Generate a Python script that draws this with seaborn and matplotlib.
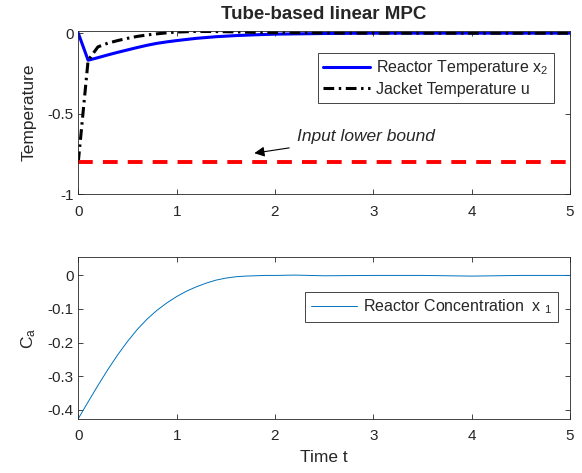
import numpy as np
import matplotlib
matplotlib.use("Agg")
import matplotlib.pyplot as plt
import seaborn as sns

# top panel: reactor temperature x2 and jacket temperature u
t_top = [0, 0.1, 0.2, 0.3, 0.4, 0.5, 0.6, 0.7, 0.8, 0.9, 1.0, 1.2, 1.4, 1.6, 1.8, 2.0, 2.5, 3.0, 3.5, 4.0, 4.5, 5.0]
x2 = [0, -0.168, -0.152, -0.135, -0.119, -0.104, -0.089, -0.075, -0.063, -0.054, -0.046, -0.032, -0.022, -0.015, -0.010, -0.006, -0.002, 0, 0, 0, 0, 0]
u = [-0.80, -0.168, -0.085, -0.062, -0.046, -0.032, -0.020, -0.011, -0.004, 0.002, 0.007, 0.011, 0.010, 0.008, 0.005, 0.003, 0.001, 0, 0, 0, 0, 0]
bound_t = [0, 5]
bound_u = [-0.8, -0.8]

# bottom panel: reactor concentration x1
t_bot = [0, 0.1, 0.2, 0.3, 0.4, 0.5, 0.6, 0.7, 0.8, 0.9, 1.0, 1.1, 1.2, 1.3, 1.4, 1.5, 1.6, 1.7, 1.8, 1.9, 2.0,
         2.2, 2.5, 3.0, 3.5, 4.0, 4.5, 5.0]
x1 = [-0.427, -0.377, -0.328, -0.281, -0.237, -0.197, -0.161, -0.130, -0.104, -0.082, -0.063, -0.047, -0.034,
      -0.023, -0.014, -0.008, -0.004, -0.002, -0.001, 0.0, 0.0, 0.001, -0.001, 0.0, 0.0, -0.002, 0.0, 0.0]

sns.set_style("ticks")
plt.rcParams['font.family'] = ['Liberation Sans', 'DejaVu Sans']
plt.rcParams['mathtext.default'] = 'regular'
plt.rcParams['xtick.direction'] = 'in'
plt.rcParams['ytick.direction'] = 'in'
plt.rcParams['xtick.top'] = True
plt.rcParams['ytick.right'] = True

axcol = '0.15'
fig = plt.figure(figsize=(5.82, 4.73), dpi=100)
ax1 = fig.add_axes([0.1345, 0.5893, 0.845, 0.346])
ax2 = fig.add_axes([0.1345, 0.1142, 0.845, 0.3425])

sns.lineplot(x=t_top, y=x2, ax=ax1, color='#0000FF', lw=2.2, label='Reactor Temperature x$_2$')
sns.lineplot(x=t_top, y=u, ax=ax1, color='black', lw=2.2, label='Jacket Temperature u')
ax1.lines[-1].set_dashes((3.5, 1.5, 0.8, 1.5))
sns.lineplot(x=bound_t, y=bound_u, ax=ax1, color='#FF0000', lw=2.8)
ax1.lines[-1].set_dashes((3.8, 2.6))

ax1.set_xlim(0, 5)
ax1.set_ylim(-1, 0.016)
ax1.set_yticks([-1, -0.5, 0])
ax1.set_yticklabels(['-1', '-0.5', '0'])
ax1.set_xticks(range(6))
ax1.set_title('Tube-based linear MPC', fontweight='bold', fontsize=13.5, pad=8.6)
ax1.set_ylabel('Temperature', fontsize=12.5)
ax1.yaxis.set_label_coords(-0.085, 0.5)
h, l = ax1.get_legend_handles_labels()
leg1 = ax1.legend(h[:2], l[:2], loc='upper right', bbox_to_anchor=(0.967, 0.866),
                  borderaxespad=0, fancybox=False, framealpha=1, edgecolor=axcol,
                  fontsize=11.5, handlelength=2.9, handletextpad=0.4, borderpad=0.35,
                  labelspacing=0.3)
leg1.get_frame().set_linewidth(0.6)

ax1.annotate('Input lower bound', xy=(1.79, -0.745), xytext=(2.22, -0.64),
             fontsize=12.5, fontstyle='italic', va='center', ha='left',
             arrowprops=dict(arrowstyle='-|>', color='black', lw=0.8, mutation_scale=15, shrinkA=4, shrinkB=0))

sns.lineplot(x=t_bot, y=x1, ax=ax2, color='#0072BD', lw=0.7, label='Reactor Concentration  x $_1$')
ax2.set_xlim(0, 5)
ax2.set_ylim(-0.428, 0.055)
ax2.set_yticks([-0.4, -0.3, -0.2, -0.1, 0])
ax2.set_yticklabels(['-0.4', '-0.3', '-0.2', '-0.1', '0'])
ax2.set_xticks(range(6))
ax2.set_xlabel('Time t', fontsize=12.5, labelpad=5)
ax2.set_ylabel('C$_a$', fontsize=12.5)
ax2.yaxis.set_label_coords(-0.081, 0.5)
leg2 = ax2.legend(loc='upper right', bbox_to_anchor=(0.976, 0.784), borderaxespad=0,
                  fancybox=False, framealpha=1, edgecolor=axcol, fontsize=11.5,
                  handlelength=2.9, handletextpad=0.4, borderpad=0.35)
leg2.get_frame().set_linewidth(0.6)

for ax in (ax1, ax2):
    for s in ax.spines.values():
        s.set_visible(True)
        s.set_color(axcol)
        s.set_linewidth(0.6)
    ax.tick_params(which='both', colors=axcol, labelcolor=axcol, labelsize=11, length=3.5, width=0.6)
    ax.tick_params(axis='x', pad=7.5)
    ax.xaxis.label.set_color(axcol)
    ax.yaxis.label.set_color(axcol)

fig.savefig('out.png', dpi=100)
